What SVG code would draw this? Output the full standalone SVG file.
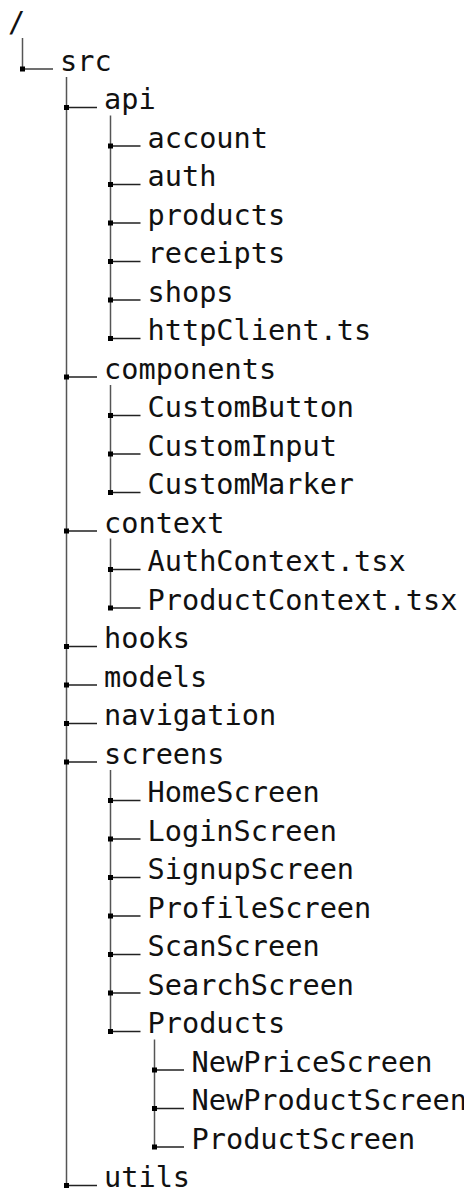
<svg xmlns="http://www.w3.org/2000/svg" width="464" height="1189" viewBox="0 0 464 1189">
<style>
text{font-family:"DejaVu Sans Mono","Liberation Mono",monospace;font-size:28.6px;fill:#111}
.v{stroke:#555;stroke-width:1.5;fill:none}
.h{stroke:#222;stroke-width:1.3;fill:none}
.d{fill:#000}
</style>
<rect width="464" height="1189" fill="#fff"/>
<g id="connectors">
<path class="v" d="M22.5 38V69"/>
<path class="v" d="M66.5 77V1185.5"/>
<path class="v" d="M110.5 115.5V338.5"/>
<path class="v" d="M110.5 385V492.5"/>
<path class="v" d="M110.5 538.5V608"/>
<path class="v" d="M110.5 770V1031.5"/>
<path class="v" d="M154.5 1039.5V1147"/>
<g id="branches">
<path class="h" d="M22.5 69H53"/>
<path class="h" d="M66.5 107.5H97M66.5 377H97M66.5 531H97M66.5 646.5H97M66.5 685H97M66.5 723.5H97M66.5 762H97M66.5 1185.5H97"/>
<path class="h" d="M110.5 146H140.5M110.5 184.5H140.5M110.5 223H140.5M110.5 261.5H140.5M110.5 300H140.5M110.5 338.5H140.5"/>
<path class="h" d="M110.5 415.5H140.5M110.5 454H140.5M110.5 492.5H140.5M110.5 569.5H140.5M110.5 608H140.5"/>
<path class="h" d="M110.5 800.5H140.5M110.5 839H140.5M110.5 877.5H140.5M110.5 916H140.5M110.5 954.5H140.5M110.5 993H140.5M110.5 1031.5H140.5"/>
<path class="h" d="M154.5 1070H184M154.5 1108.5H184M154.5 1147H184"/>
</g>
<g id="dots" class="d">
<rect x="20" y="66.5" width="5" height="5"/>
<rect x="64" y="105" width="5" height="5"/><rect x="64" y="374.5" width="5" height="5"/><rect x="64" y="528.5" width="5" height="5"/><rect x="64" y="644" width="5" height="5"/><rect x="64" y="682.5" width="5" height="5"/><rect x="64" y="721" width="5" height="5"/><rect x="64" y="759.5" width="5" height="5"/><rect x="64" y="1183" width="5" height="5"/>
<rect x="108" y="143.5" width="5" height="5"/><rect x="108" y="182" width="5" height="5"/><rect x="108" y="220.5" width="5" height="5"/><rect x="108" y="259" width="5" height="5"/><rect x="108" y="297.5" width="5" height="5"/><rect x="108" y="336" width="5" height="5"/>
<rect x="108" y="413" width="5" height="5"/><rect x="108" y="451.5" width="5" height="5"/><rect x="108" y="490" width="5" height="5"/>
<rect x="108" y="567" width="5" height="5"/><rect x="108" y="605.5" width="5" height="5"/>
<rect x="108" y="798" width="5" height="5"/><rect x="108" y="836.5" width="5" height="5"/><rect x="108" y="875" width="5" height="5"/><rect x="108" y="913.5" width="5" height="5"/><rect x="108" y="952" width="5" height="5"/><rect x="108" y="990.5" width="5" height="5"/><rect x="108" y="1029" width="5" height="5"/>
<rect x="152" y="1067.5" width="5" height="5"/><rect x="152" y="1106" width="5" height="5"/><rect x="152" y="1144.5" width="5" height="5"/>
</g>
</g>
<g id="n0"><text x="8" y="32">/</text></g>
<g id="n1"><text x="60" y="70.5">src</text></g>
<g id="n2"><text x="104" y="109">api</text></g>
<g id="n3"><text x="147.5" y="147.5">account</text></g>
<g id="n4"><text x="147.5" y="186">auth</text></g>
<g id="n5"><text x="147.5" y="224.5">products</text></g>
<g id="n6"><text x="147.5" y="263">receipts</text></g>
<g id="n7"><text x="147.5" y="301.5">shops</text></g>
<g id="n8"><text x="147.5" y="340">httpClient.ts</text></g>
<g id="n9"><text x="104" y="378.5">components</text></g>
<g id="n10"><text x="147.5" y="417">CustomButton</text></g>
<g id="n11"><text x="147.5" y="455.5">CustomInput</text></g>
<g id="n12"><text x="147.5" y="494">CustomMarker</text></g>
<g id="n13"><text x="104" y="532.5">context</text></g>
<g id="n14"><text x="147.5" y="571">AuthContext.tsx</text></g>
<g id="n15"><text x="147.5" y="609.5">ProductContext.tsx</text></g>
<g id="n16"><text x="104" y="648">hooks</text></g>
<g id="n17"><text x="104" y="686.5">models</text></g>
<g id="n18"><text x="104" y="725">navigation</text></g>
<g id="n19"><text x="104" y="763.5">screens</text></g>
<g id="n20"><text x="147.5" y="802">HomeScreen</text></g>
<g id="n21"><text x="147.5" y="840.5">LoginScreen</text></g>
<g id="n22"><text x="147.5" y="879">SignupScreen</text></g>
<g id="n23"><text x="147.5" y="917.5">ProfileScreen</text></g>
<g id="n24"><text x="147.5" y="956">ScanScreen</text></g>
<g id="n25"><text x="147.5" y="994.5">SearchScreen</text></g>
<g id="n26"><text x="147.5" y="1033">Products</text></g>
<g id="n27"><text x="191.5" y="1071.5">NewPriceScreen</text></g>
<g id="n28"><text x="191.5" y="1110">NewProductScreen</text></g>
<g id="n29"><text x="191.5" y="1148.5">ProductScreen</text></g>
<g id="n30"><text x="104" y="1186.5">utils</text></g>
</svg>
